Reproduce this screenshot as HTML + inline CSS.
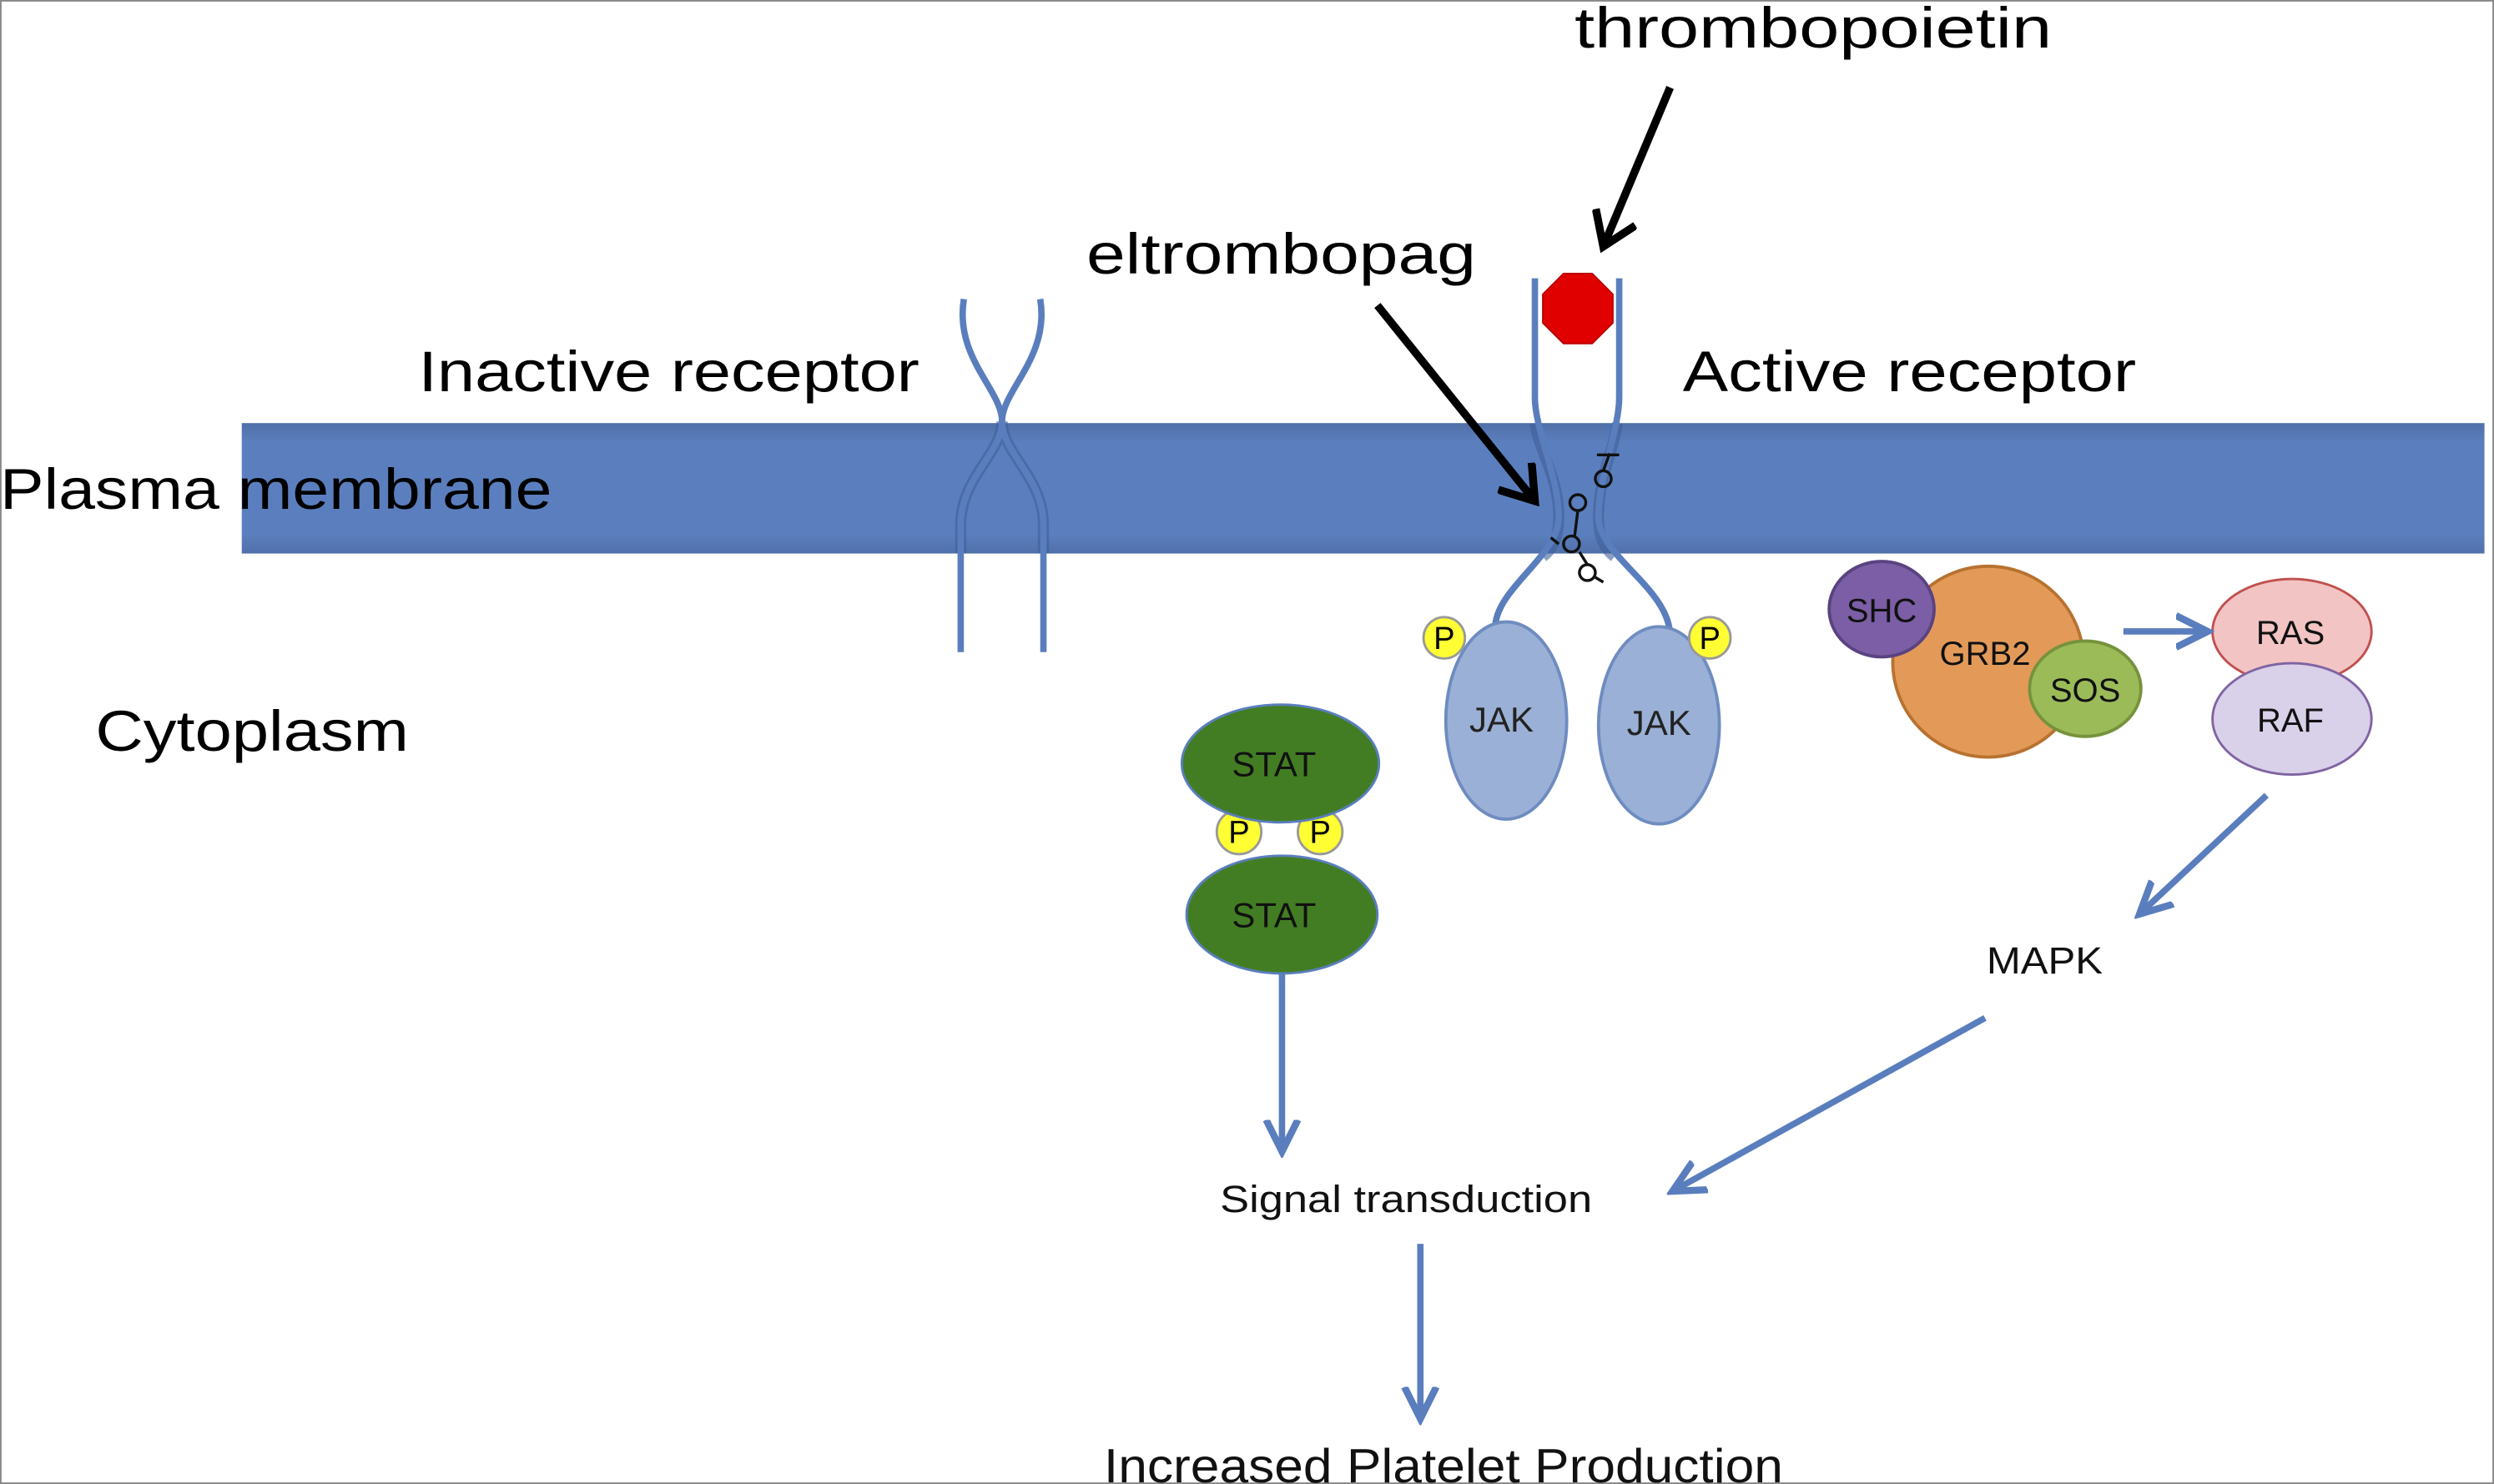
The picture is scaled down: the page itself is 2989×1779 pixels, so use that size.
<!DOCTYPE html>
<html><head><meta charset="utf-8"><style>
html,body{margin:0;padding:0;background:#fff;width:2989px;height:1779px;overflow:hidden}
svg{display:block}
text{font-family:"Liberation Sans",sans-serif}
</style></head><body>
<svg width="2989" height="1779" viewBox="0 0 1568 933" preserveAspectRatio="none">
<defs>
<linearGradient id="mem" x1="0" y1="0" x2="0" y2="1">
<stop offset="0" stop-color="#4f6fa8"/><stop offset="0.15" stop-color="#5b7fbe"/><stop offset="0.85" stop-color="#5b7fbe"/><stop offset="1" stop-color="#5070aa"/>
</linearGradient>
<marker id="bk" markerWidth="6" markerHeight="6" refX="4.5" refY="3" orient="auto" markerUnits="strokeWidth"><path d="M0.5,0.3 L4.5,3 L0.5,5.7" fill="none" stroke="#000" stroke-width="1"/></marker>
<marker id="bl" markerWidth="6" markerHeight="6" refX="4" refY="3" orient="auto" markerUnits="strokeWidth"><path d="M0,0.5 L5,3 L0,5.5" fill="none" stroke="#5a7ebd" stroke-width="1.1"/></marker>
</defs>
<rect x="0.5" y="0.5" width="1567" height="932" fill="#fff" stroke="#888" stroke-width="1"/>
<rect x="152" y="266" width="1410" height="82" fill="url(#mem)"/>
<g font-size="36" lengthAdjust="spacingAndGlyphs">
<text x="0" y="320" textLength="347" lengthAdjust="spacingAndGlyphs">Plasma membrane</text>
<text x="263" y="246" textLength="315" lengthAdjust="spacingAndGlyphs">Inactive receptor</text>
<text x="1058" y="246" textLength="285" lengthAdjust="spacingAndGlyphs">Active receptor</text>
<text x="990" y="30" textLength="300" lengthAdjust="spacingAndGlyphs">thrombopoietin</text>
<text x="683" y="172" textLength="245" lengthAdjust="spacingAndGlyphs">eltrombopag</text>
<text x="60" y="472" textLength="197" lengthAdjust="spacingAndGlyphs">Cytoplasm</text>
</g>
<g fill="none" stroke="#3f5f98" stroke-width="7" opacity="0.6">
<path d="M630,265 C630,285 604,300 604,330 L604,348"/>
<path d="M630,265 C630,285 656,300 656,330 L656,348"/>
<path d="M965,266 C968,285 980,300 980,325 C980,340 975,346 970,350"/>
<path d="M1017,266 C1014,285 1005,300 1005,325 C1005,340 1010,346 1015,350"/>
</g>
<g fill="none" stroke="#5a7ebd" stroke-width="4">
<path d="M606,188 C600,225 630,245 630,265 C630,285 604,300 604,330 L604,410"/>
<path d="M654,188 C660,225 630,245 630,265 C630,285 656,300 656,330 L656,410"/>
<path d="M965,175 L965,250 C965,270 980,300 980,325 C980,350 940,370 940,395"/>
<path d="M1018,175 L1018,250 C1018,270 1005,300 1005,325 C1005,350 1050,370 1050,400"/>
</g>
<path d="M1001,172 L1014,185 L1014,203 L1001,216 L983,216 L970,203 L970,185 L983,172 Z" fill="#e00000" stroke="#b00" stroke-width="1"/>
<g stroke="#111" stroke-width="1.8" fill="none">
<circle cx="1008" cy="301" r="5"/><circle cx="992" cy="316" r="5"/><circle cx="988" cy="342" r="5"/><circle cx="998" cy="360" r="5"/>
<path d="M1008,296 L1012,285 M1004,286 L1018,286 M992,321 L990,337 M993,347 L998,355 M1003,363 L1008,366 M980,342 L975,338"/>
</g>
<line x1="1050" y1="55" x2="1008" y2="155" stroke="#000" stroke-width="5" marker-end="url(#bk)"/>
<line x1="866" y1="192" x2="965" y2="315" stroke="#000" stroke-width="5" marker-end="url(#bk)"/>
<ellipse cx="947" cy="453" rx="38" ry="62" fill="#9ab0d6" stroke="#6f8cc0" stroke-width="2"/>
<ellipse cx="1043" cy="456" rx="38" ry="62" fill="#9ab0d6" stroke="#6f8cc0" stroke-width="2"/>
<text x="944" y="460" font-size="22" text-anchor="middle" fill="#222">JAK</text>
<text x="1043" y="462" font-size="22" text-anchor="middle" fill="#222">JAK</text>
<g fill="#ffff33" stroke="#999" stroke-width="1.5">
<circle cx="908" cy="401" r="13"/><circle cx="1075" cy="401" r="13"/><circle cx="779" cy="523" r="14"/><circle cx="830" cy="523" r="14"/>
</g>
<g font-size="20" text-anchor="middle" fill="#000">
<text x="908" y="408">P</text><text x="1075" y="408">P</text><text x="779" y="530">P</text><text x="830" y="530">P</text>
</g>
<ellipse cx="805" cy="480" rx="62" ry="37" fill="#437d23" stroke="#5a7ebd" stroke-width="1.5"/>
<ellipse cx="806" cy="575" rx="60" ry="37" fill="#437d23" stroke="#5a7ebd" stroke-width="1.5"/>
<text x="801" y="488" font-size="22" text-anchor="middle" fill="#111">STAT</text>
<text x="801" y="583" font-size="22" text-anchor="middle" fill="#111">STAT</text>
<circle cx="1250" cy="416" r="60" fill="#e39a59" stroke="#b8722f" stroke-width="2"/>
<ellipse cx="1183" cy="383" rx="33" ry="30" fill="#7b5ea5" stroke="#5a4380" stroke-width="2"/>
<ellipse cx="1311" cy="433" rx="35" ry="30" fill="#9bbb59" stroke="#76923c" stroke-width="2"/>
<text x="1183" y="391" font-size="21" text-anchor="middle" fill="#111">SHC</text>
<text x="1248" y="418" font-size="21" text-anchor="middle" fill="#111">GRB2</text>
<text x="1311" y="441" font-size="21" text-anchor="middle" fill="#111">SOS</text>
<ellipse cx="1441" cy="397" rx="50" ry="33" fill="#f2c4c4" stroke="#c0504d" stroke-width="1.5"/>
<ellipse cx="1441" cy="452" rx="50" ry="35" fill="#d9d0ea" stroke="#8064a2" stroke-width="1.5"/>
<text x="1440" y="405" font-size="21" text-anchor="middle" fill="#111">RAS</text>
<text x="1440" y="460" font-size="21" text-anchor="middle" fill="#111">RAF</text>
<g stroke="#5a7ebd" stroke-width="4" fill="none">
<line x1="1335" y1="397" x2="1384" y2="397" marker-end="url(#bl)"/>
<line x1="1425" y1="500" x2="1348" y2="572" marker-end="url(#bl)"/>
<line x1="1248" y1="640" x2="1055" y2="747" marker-end="url(#bl)"/>
<line x1="806" y1="612" x2="806" y2="720" marker-end="url(#bl)"/>
<line x1="893" y1="782" x2="893" y2="888" marker-end="url(#bl)"/>
</g>
<text x="1249" y="612" font-size="24" textLength="73" lengthAdjust="spacingAndGlyphs" fill="#111">MAPK</text>
<text x="767" y="762" font-size="24" textLength="234" lengthAdjust="spacingAndGlyphs" fill="#111">Signal transduction</text>
<text x="694" y="932" font-size="30" textLength="427" lengthAdjust="spacingAndGlyphs" fill="#111">Increased Platelet Production</text>
</svg>
</body></html>
